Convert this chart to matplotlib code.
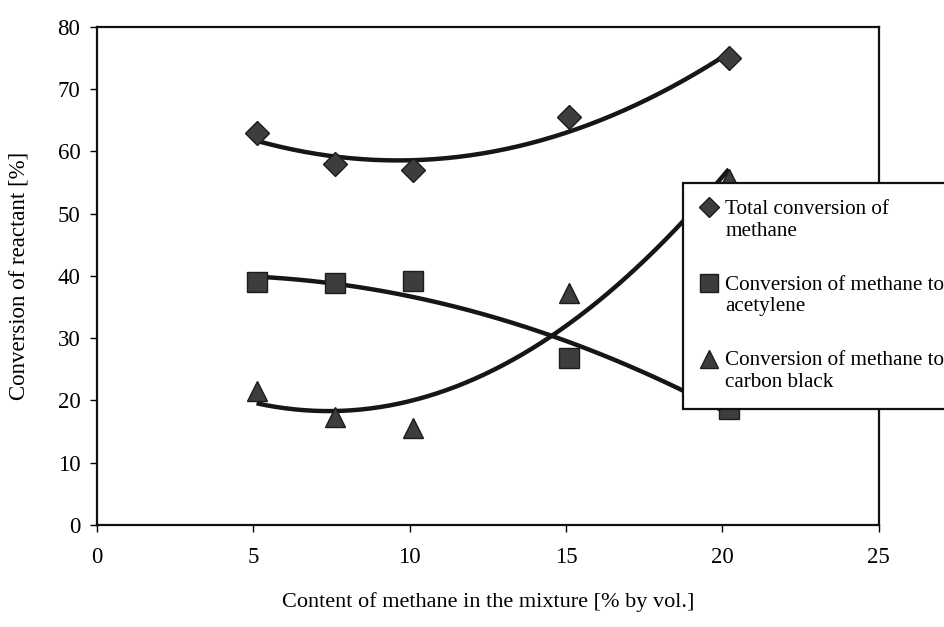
import numpy as np
import matplotlib
matplotlib.use("Agg")
import matplotlib.pyplot as plt

# ================= DATA =================
methane_content = [5.1, 7.6, 10.1, 15.1, 20.2]
total_conversion = [63.0, 58.0, 57.0, 65.5, 75.0]
to_acetylene = [39.0, 38.8, 39.2, 26.8, 18.7]
to_carbon_black = [21.6, 17.4, 15.6, 37.3, 55.5]

labels = [
    "Total conversion of\nmethane",
    "Conversion of methane to\nacetylene",
    "Conversion of methane to\ncarbon black",
]

# ================= STYLE =================
plt.rcParams["font.family"] = ["Liberation Serif", "DejaVu Serif"]
plt.rcParams["font.size"] = 15

marker_fill = "#3d3d3d"
line_color = "#161616"

fig = plt.figure(figsize=(9.44, 6.27), dpi=100)
ax = fig.add_axes([0.1028, 0.1627, 0.8282, 0.7943])

series = [
    (total_conversion, "D", 12),
    (to_acetylene, "s", 15),
    (to_carbon_black, "^", 15),
]

# trendlines (2nd order polynomial fit, like the spreadsheet trendline)
x_fit = np.linspace(min(methane_content), max(methane_content), 200)
for values, marker, ms in series:
    coef = np.polyfit(methane_content, values, 2)
    ax.plot(x_fit, np.polyval(coef, x_fit), color=line_color, lw=3.2,
            solid_capstyle="butt", zorder=2)

handles = []
for (values, marker, ms), label in zip(series, labels):
    h, = ax.plot(methane_content, values, linestyle="none", marker=marker,
                 markersize=ms, markerfacecolor=marker_fill,
                 markeredgecolor="#1c1c1c", markeredgewidth=1.0,
                 label=label, zorder=3)
    handles.append(h)

ax.set_xlim(0, 25)
ax.set_ylim(0, 80)
ax.set_xticks(range(0, 26, 5))
ax.set_yticks(range(0, 81, 10))

for side in ["left", "right", "top", "bottom"]:
    ax.spines[side].set_linewidth(1.6)
    ax.spines[side].set_color("#111111")

ax.tick_params(axis="x", direction="out", length=5, width=1.0, pad=11,
               labelsize=16.5)
ax.tick_params(axis="y", direction="out", length=5, width=1.0, pad=7,
               labelsize=16.5)

ax.set_xlabel("Content of methane in the mixture [% by vol.]",
              fontsize=16, labelpad=17)
ax.set_ylabel("Conversion of reactant [%]", fontsize=16.5, labelpad=20)

leg = fig.legend(handles=handles, loc="upper left",
                 bbox_to_anchor=(0.7235, 0.708),
                 bbox_transform=fig.transFigure,
                 fontsize=15.2, frameon=True, fancybox=False,
                 edgecolor="#111111", framealpha=1.0,
                 handlelength=0.9, handletextpad=0.3,
                 labelspacing=1.65, borderpad=0.8, borderaxespad=0,
                 markerscale=0.85)
leg.get_frame().set_linewidth(1.6)
leg.set_zorder(10)

# put each legend marker level with the first line of its label
for column in leg._legend_handle_box.get_children():
    for item in column.get_children():
        item.align = "top"

plt.savefig("out.png", dpi=100)
plt.close()
